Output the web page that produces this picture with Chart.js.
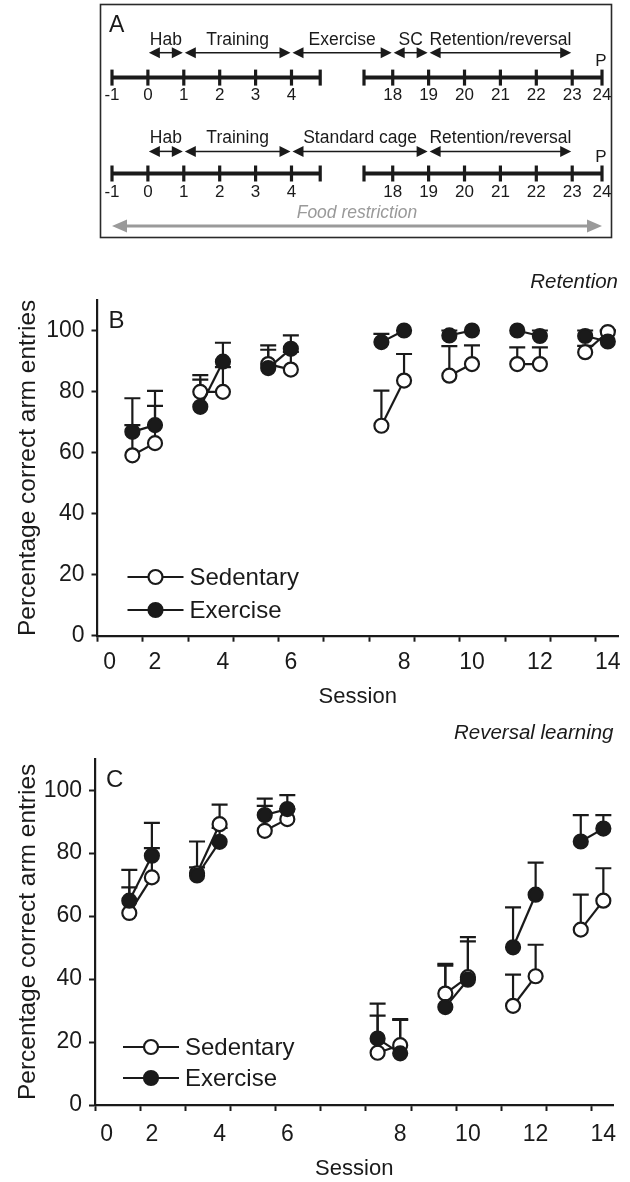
<!DOCTYPE html>
<html>
<head>
<meta charset="utf-8">
<script src="https://cdn.jsdelivr.net/npm/chart.js@4.4.0/dist/chart.umd.min.js"></script>
<style>
  html, body { margin: 0; padding: 0; background: #fff; }
  body { width: 630px; height: 1182px; position: relative; overflow: hidden; }
  .panel { position: absolute; left: 0; width: 630px; }
  #panelA { top: 0; height: 250px; }
  #panelB { top: 255px; height: 460px; }
  #panelC { top: 715px; height: 467px; }
</style>
</head>
<body>
<div class="panel" id="panelA"><canvas id="chartA"></canvas></div>
<div class="panel" id="panelB"><canvas id="chartB"></canvas></div>
<div class="panel" id="panelC"><canvas id="chartC"></canvas></div>
<script>
// ---- data ----
const sessions = [1, 2, 3, 4, 5, 6, 7, 8, 9, 10, 11, 12, 13, 14];
const sessionLabelAt = [0, 2, 4, 6, 8, 10, 12, 14];
const sessionTickLabels = ['0', '2', '4', '6', '8', '10', '12', '14'];
const yTicks = [0, 20, 40, 60, 80, 100];

// B: retention
const retSedentary    = [59.1, 63.1, 79.9, 79.9, 89.0, 87.2, 68.8, 83.6, 85.2, 89.0, 89.0, 89.0, 92.9, 99.5];
const retSedentarySem = [9.9, 12.2, 4.0, 8.1, 4.7, 5.8, 11.5, 8.7, 9.7, 6.1, 5.5, 5.5, 2.1, 0.5];
const retExercise     = [66.8, 69.0, 75.0, 89.8, 87.7, 94.0, 96.2, 100, 98.4, 100, 100, 98.2, 98.2, 96.4];
const retExerciseSem  = [11.0, 11.2, 10.4, 6.2, 7.4, 4.4, 2.7, 0, 1.6, 0, 0, 1.8, 1.8, 3.6];

// C: reversal learning
const revSedentary    = [61.0, 72.3, 73.6, 89.2, 87.1, 90.8, 16.6, 19.0, 35.4, 40.6, 31.5, 40.9, 55.7, 64.9];
const revSedentarySem = [8.1, 9.3, 1.9, 6.2, 7.9, 3.2, 11.8, 8.3, 9.4, 11.4, 9.9, 10.0, 11.1, 10.3];
const revExercise     = [64.9, 79.2, 72.9, 83.6, 92.1, 94.0, 21.1, 16.4, 31.1, 39.8, 50.1, 66.8, 83.7, 87.8];
const revExerciseSem  = [9.8, 10.4, 10.8, 4.4, 5.2, 4.4, 11.1, 10.6, 13.2, 13.5, 12.7, 10.2, 8.4, 4.3];

// A: timeline
const timelineDays = [-1, 0, 1, 2, 3, 4, 18, 19, 20, 21, 22, 23, 24];
const exercisePhases = [['Hab', 0, 1], ['Training', 1, 4], ['Exercise', 4, 18], ['SC', 18, 19], ['Retention/reversal', 19, 23]];
const sedentaryPhases = [['Hab', 0, 1], ['Training', 1, 4], ['Standard cage', 4, 19], ['Retention/reversal', 19, 23]];

// ---- layout helpers ----
const INK = '#1a1a1a';
const FONT = "'Liberation Sans', Arial, Helvetica, sans-serif";
Chart.defaults.font.family = FONT;
Chart.defaults.color = INK;

// sessions come in pairs, with a break after session 6
function sessionPos(s) {
  if (s === 0) return sessionPos(1) - 1;
  const pair = Math.floor((s - 1) / 2);
  return pair * 3 + (s - 1) % 2 + (pair >= 3 ? 2 : 0);
}

// timeline days: broken axis between day 4 and day 18
function dayPos(d) {
  if (d <= 4) return d;
  if (d < 24) return d - 18 + 6.82;
  return dayPos(23) + 0.83;
}

const errorBarsPlugin = {
  id: 'errorBars',
  beforeDatasetsDraw(chart) {
    const {ctx} = chart;
    const xs = chart.scales.x, ys = chart.scales.y;
    ctx.save();
    ctx.strokeStyle = INK;
    ctx.lineWidth = 2.2;
    chart.data.datasets.forEach(ds => {
      ds.data.forEach((p, i) => {
        const up = ds.errorUp[i];
        if (!up) return;
        const px = xs.getPixelForValue(p.x);
        const y0 = ys.getPixelForValue(p.y);
        const y1 = ys.getPixelForValue(p.y + up);
        ctx.beginPath();
        ctx.moveTo(px, y0); ctx.lineTo(px, y1);
        ctx.moveTo(px - 8, y1); ctx.lineTo(px + 8, y1);
        ctx.stroke();
      });
    });
    ctx.restore();
  }
};

const markerLegendPlugin = {
  id: 'markerLegend',
  afterDraw(chart, args, opts) {
    const {ctx, chartArea} = chart;
    const x0 = chartArea.left + opts.left;
    const x1 = x0 + 56;
    ctx.save();
    ['Sedentary', 'Exercise'].forEach((name, k) => {
      const ds = chart.data.datasets.find(d => d.label === name);
      const y = chartArea.bottom - opts.rows[k];
      ctx.strokeStyle = INK;
      ctx.lineWidth = 2.2;
      ctx.beginPath(); ctx.moveTo(x0, y); ctx.lineTo(x1, y); ctx.stroke();
      ctx.beginPath();
      ctx.arc((x0 + x1) / 2, y, 7, 0, Math.PI * 2);
      ctx.fillStyle = ds.pointBackgroundColor;
      ctx.fill();
      ctx.stroke();
      ctx.fillStyle = INK;
      ctx.font = '24px ' + FONT;
      ctx.textBaseline = 'middle';
      ctx.fillText(name, x1 + 6, y + 1);
    });
    // panel letter
    ctx.font = '24px ' + FONT;
    ctx.fillText(opts.letter, chartArea.left + 11, chartArea.top + opts.letterY);
    ctx.restore();
  }
};

function makeSessionChart(canvasId, title, sed, sedSem, exe, exeSem, lay) {
  const labelAt = new Map(sessionLabelAt.map((s, i) => [sessionPos(s), sessionTickLabels[i]]));
  const tickMarks = Array.from({length: 12}, (_, k) => lay.xMin + 2 * k);
  const toPoints = vals => sessions.map((s, i) => ({x: sessionPos(s), y: vals[i]}));
  const pairBreak = ctx => (ctx.p0DataIndex % 2 === 1 ? 'rgba(0,0,0,0)' : INK);

  return new Chart(document.getElementById(canvasId), {
    type: 'line',
    data: {
      datasets: [
        {
          label: 'Sedentary', data: toPoints(sed), errorUp: sedSem, order: 2,
          borderColor: INK, borderWidth: 2.2, segment: {borderColor: pairBreak},
          pointRadius: 7, pointBorderWidth: 2.2, pointBorderColor: INK, pointBackgroundColor: '#ffffff'
        },
        {
          label: 'Exercise', data: toPoints(exe), errorUp: exeSem, order: 1,
          borderColor: INK, borderWidth: 2.2, segment: {borderColor: pairBreak},
          pointRadius: 7, pointBorderWidth: 2.2, pointBorderColor: INK, pointBackgroundColor: INK
        }
      ]
    },
    options: {
      responsive: true,
      maintainAspectRatio: false,
      animation: false,
      events: [],
      layout: {padding: {left: 0, right: lay.padRight, top: 0, bottom: 0}},
      scales: {
        x: {
          type: 'linear', min: lay.xMin, max: lay.xMax,
          afterBuildTicks: scale => {
            scale.ticks = [...tickMarks, ...labelAt.keys()].sort((a, b) => a - b).map(v => ({value: v}));
          },
          afterFit: scale => { scale.height = lay.xHeight; },
          border: {display: true, color: INK, width: 2.2},
          grid: {
            drawOnChartArea: false, tickLength: 6, tickWidth: 2,
            tickColor: c => (c.tick && labelAt.has(c.tick.value) ? 'rgba(0,0,0,0)' : INK)
          },
          ticks: {
            autoSkip: false, maxRotation: 0, minRotation: 0, padding: lay.xTickPad,
            font: {size: 23}, color: INK,
            callback: v => labelAt.get(v) || ''
          },
          title: {display: true, text: 'Session', font: {size: 22}, color: INK, padding: {top: 0, bottom: lay.xTitlePad}}
        },
        y: {
          min: 0, max: 110,
          afterBuildTicks: scale => { scale.ticks = yTicks.map(v => ({value: v})); },
          afterFit: scale => { scale.width = lay.yWidth; },
          border: {display: true, color: INK, width: 2.2},
          grid: {drawOnChartArea: false, tickLength: 6, tickWidth: 2, tickColor: INK},
          ticks: {padding: 7, font: {size: 23}, color: INK},
          title: {display: true, text: 'Percentage correct arm entries', font: {size: 24.5}, color: INK, padding: {top: 14, bottom: 0}}
        }
      },
      plugins: {
        legend: {display: false},
        tooltip: {enabled: false},
        title: {
          display: true, text: title, align: 'end', color: INK,
          font: {size: 20.5, style: 'italic', weight: 'normal'},
          padding: {top: lay.titleTop, bottom: lay.titleBottom}
        },
        markerLegend: {left: lay.legendLeft, rows: lay.legendRows, letter: lay.letter, letterY: lay.letterY}
      }
    },
    plugins: [errorBarsPlugin, markerLegendPlugin]
  });
}

makeSessionChart('chartB', 'Retention', retSedentary, retSedentarySem, retExercise, retExerciseSem, {
  xMin: -1.54, xMax: 21.45, padRight: 12, xHeight: 79.3, xTickPad: 7, xTitlePad: 5,
  yWidth: 97.5, titleTop: 15, titleBottom: 5.4,
  legendLeft: 30, legendRows: [58.7, 25.7], letter: 'B', letterY: 21
});

makeSessionChart('chartC', 'Reversal learning', revSedentary, revSedentarySem, revExercise, revExerciseSem, {
  xMin: -1.52, xMax: 21.45, padRight: 16.5, xHeight: 77, xTickPad: 10, xTitlePad: 0,
  yWidth: 95, titleTop: 6, titleBottom: 13.1,
  legendLeft: 28, legendRows: [58, 27], letter: 'C', letterY: 22
});

// ---- panel A: experimental timeline ----
function arrow(ctx, x0, x1, y, lw, head, half, color) {
  ctx.strokeStyle = color; ctx.fillStyle = color; ctx.lineWidth = lw;
  ctx.beginPath(); ctx.moveTo(x0 + head * 0.8, y); ctx.lineTo(x1 - head * 0.8, y); ctx.stroke();
  [[x0, 1], [x1, -1]].forEach(([x, dir]) => {
    ctx.beginPath();
    ctx.moveTo(x, y);
    ctx.lineTo(x + dir * head, y - half);
    ctx.lineTo(x + dir * head, y + half);
    ctx.closePath();
    ctx.fill();
  });
}

const timelineRows = [
  {phases: exercisePhases, labelY: 40, arrowY: 52.7, lineY: 77.6, tickLabelY: 95.5, pY: 61},
  {phases: sedentaryPhases, labelY: 138, arrowY: 151.4, lineY: 173.5, tickLabelY: 192, pY: 157}
];

const timelinePlugin = {
  id: 'timeline',
  afterDraw(chart) {
    const {ctx} = chart;
    const xs = chart.scales.x, ys = chart.scales.y;
    const X = u => xs.getPixelForValue(u);
    const Y = v => ys.getPixelForValue(v);
    ctx.save();
    ctx.strokeStyle = '#2a2a2a';
    ctx.lineWidth = 1.6;
    ctx.strokeRect(100.5, 4.5, 511, 233);

    ctx.fillStyle = INK;
    ctx.textBaseline = 'middle';
    ctx.font = '23px ' + FONT;
    ctx.fillText('A', 109, Y(26));

    const segEnds = [4.8, 6.02];
    timelineRows.forEach(row => {
      // base line
      ctx.strokeStyle = INK;
      ctx.lineWidth = 4;
      ctx.beginPath();
      ctx.moveTo(X(dayPos(-1)), Y(row.lineY)); ctx.lineTo(X(segEnds[0]), Y(row.lineY));
      ctx.moveTo(X(segEnds[1]), Y(row.lineY)); ctx.lineTo(X(dayPos(24)), Y(row.lineY));
      ctx.stroke();
      ctx.lineWidth = 3.2;
      [...timelineDays.map(dayPos), ...segEnds].forEach(u => {
        ctx.beginPath();
        ctx.moveTo(X(u), Y(row.lineY - 8)); ctx.lineTo(X(u), Y(row.lineY + 8));
        ctx.stroke();
      });
      ctx.fillStyle = INK;
      ctx.textAlign = 'center';
      ctx.font = '17px ' + FONT;
      timelineDays.forEach(d => ctx.fillText(String(d), X(dayPos(d)), Y(row.tickLabelY)));
      ctx.fillText('P', X(dayPos(24)) - 1, Y(row.pY));

      ctx.font = '17.5px ' + FONT;
      row.phases.forEach(([name, from, to]) => {
        const x0 = X(dayPos(from)) + 1, x1 = X(dayPos(to)) - 1;
        arrow(ctx, x0, x1, Y(row.arrowY), 1.5, 11, 5.5, INK);
        ctx.fillStyle = INK;
        ctx.fillText(name, (x0 + x1) / 2, Y(row.labelY));
      });
    });

    ctx.fillStyle = '#9a9a9a';
    ctx.font = 'italic 17.5px ' + FONT;
    ctx.fillText('Food restriction', X((dayPos(-1) + dayPos(24)) / 2), Y(213.6));
    arrow(ctx, X(dayPos(-1)), X(dayPos(24)), Y(226), 3.2, 15, 6.5, '#9a9a9a');
    ctx.restore();
  }
};

new Chart(document.getElementById('chartA'), {
  type: 'scatter',
  data: {datasets: []},
  options: {
    responsive: true,
    maintainAspectRatio: false,
    animation: false,
    events: [],
    layout: {padding: 0},
    scales: {
      x: {type: 'linear', display: false, min: -4.12, max: 13.43},
      y: {type: 'linear', display: false, min: 0, max: 250, reverse: true}
    },
    plugins: {legend: {display: false}, tooltip: {enabled: false}}
  },
  plugins: [timelinePlugin]
});
</script>
</body>
</html>
